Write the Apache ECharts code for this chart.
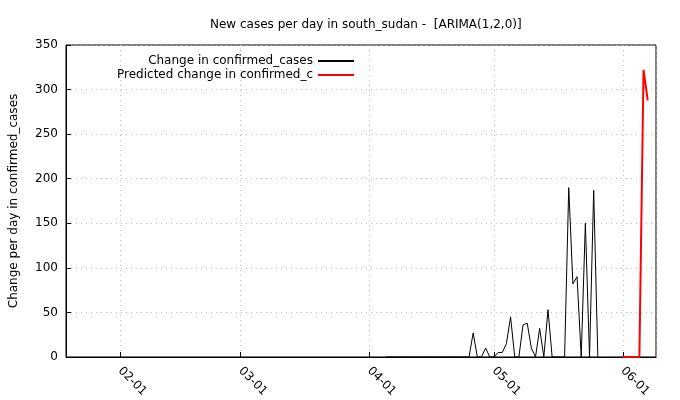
<!DOCTYPE html>
<html>
<head>
<meta charset="utf-8">
<script src="https://cdn.jsdelivr.net/npm/echarts@6/dist/echarts.min.js"></script>
<style>html,body{margin:0;background:#fff}#c{width:680px;height:400px}</style>
</head>
<body>
<div id="c"></div>
<script>
// observed daily changes
var obsDates = ["2020-04-05","2020-04-10","2020-04-15","2020-04-20","2020-04-25","2020-04-26","2020-04-27","2020-04-28","2020-04-29","2020-04-30",
  "2020-05-01","2020-05-02","2020-05-03","2020-05-04","2020-05-05","2020-05-06","2020-05-07","2020-05-08","2020-05-09","2020-05-10",
  "2020-05-11","2020-05-12","2020-05-13","2020-05-14","2020-05-15","2020-05-16","2020-05-17","2020-05-18","2020-05-19","2020-05-20",
  "2020-05-21","2020-05-22","2020-05-23","2020-05-24","2020-05-25","2020-05-26"];
var obsValues = [0,0,0,0,0,27,0,0,10,0,
  0,5,5,15,45,0,0,36,38,10,
  0,32,0,53,0,0,0,0,190,82,
  90,0,150,0,187,0];
// predicted
var predDates = ["2020-06-01","2020-06-02","2020-06-03","2020-06-04","2020-06-05","2020-06-06","2020-06-07"];
var predValues = [0,0,0,0,0,322,288];

function pairs(d, v) { return d.map(function (x, i) { return [x, v[i]]; }); }

var chart = echarts.init(document.getElementById("c"));
var f = "DejaVu Sans";
chart.setOption({
  animation: false,
  textStyle: { fontFamily: f },
  title: { text: "New cases per day in south_sudan -  [ARIMA(1,2,0)]", left: 205, top: 14,
    textStyle: { fontSize: 12, fontWeight: "normal", color: "#000", fontFamily: f } },
  legend: {
    left: 112, top: 50, orient: "vertical", align: "right", itemGap: 2,
    itemWidth: 36, itemHeight: 2, icon: "rect",
    textStyle: { fontSize: 12, color: "#000", fontFamily: f },
    data: ["Change in confirmed_cases", "Predicted change in confirmed_c"]
  },
  grid: { left: 66, right: 24, top: 45, bottom: 43, show: true, borderColor: "#000", borderWidth: 1 },
  xAxis: {
    type: "time", min: "2020-01-19", max: "2020-06-09",
    minInterval: 28 * 86400000, maxInterval: 31 * 86400000,
    axisLine: { lineStyle: { color: "#000" } },
    axisTick: { inside: true, lineStyle: { color: "#000" } },
    axisLabel: { rotate: -45, color: "#000", fontSize: 12, formatter: "{MM}-{dd}", margin: 12 },
    splitLine: { show: true, lineStyle: { type: [1, 4], color: "#bbb" } }
  },
  yAxis: {
    type: "value", min: 0, max: 350, interval: 50,
    name: "Change per day in confirmed_cases", nameLocation: "middle", nameGap: 46,
    nameTextStyle: { fontSize: 12, color: "#000" },
    axisLine: { show: true, lineStyle: { color: "#000" } },
    axisTick: { show: true, inside: true, lineStyle: { color: "#000" } },
    axisLabel: { color: "#000", fontSize: 12 },
    splitLine: { show: true, lineStyle: { type: [1, 4], color: "#bbb" } }
  },
  series: [
    { name: "Change in confirmed_cases", type: "line", data: pairs(obsDates, obsValues),
      showSymbol: false, lineStyle: { color: "#000", width: 1 }, itemStyle: { color: "#000" } },
    { name: "Predicted change in confirmed_c", type: "line", data: pairs(predDates, predValues),
      showSymbol: false, lineStyle: { color: "#ff0000", width: 2 }, itemStyle: { color: "#ff0000" } }
  ]
});
</script>
</body>
</html>
